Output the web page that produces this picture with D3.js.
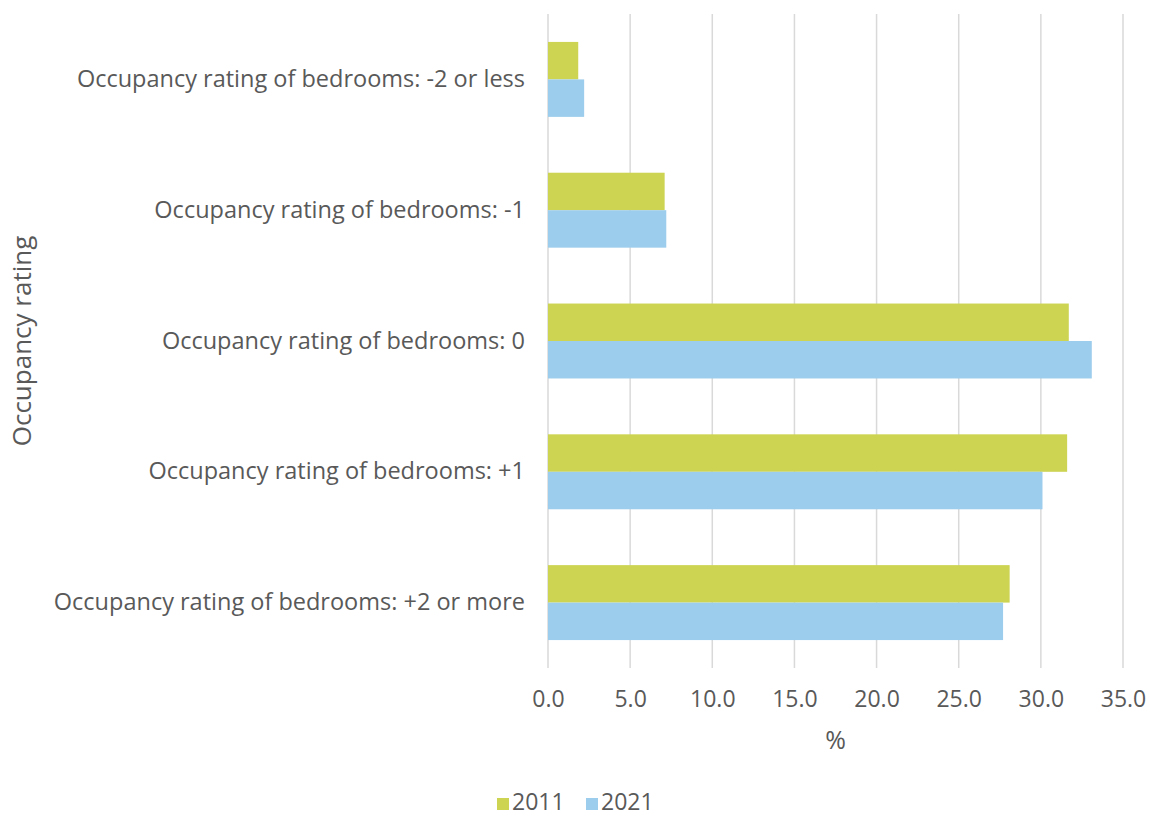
<!DOCTYPE html>
<html>
<head>
<meta charset="utf-8">
<script src="https://cdn.jsdelivr.net/npm/d3@7"></script>
<style>
  body { margin: 0; background: #fff; }
  text { font-family: "Open Sans", sans-serif; fill: #595959; }
</style>
</head>
<body>
<div class="chart_wrapper"></div>
<script>
// categories, top to bottom
const categories = [
  "Occupancy rating of bedrooms: -2 or less",
  "Occupancy rating of bedrooms: -1",
  "Occupancy rating of bedrooms: 0",
  "Occupancy rating of bedrooms: +1",
  "Occupancy rating of bedrooms: +2 or more"
]
const years = ["2011", "2021"]
const values2011 = [1.84, 7.1, 31.7, 31.6, 28.1]
const values2021 = [2.2, 7.2, 33.1, 30.1, 27.7]
const xTicks = [0, 5, 10, 15, 20, 25, 30, 35]
const colors = ["#cdd452", "#9dcdec"]

function drawChart() {

  const dataset = categories.map((c, i) => ({
    cat: c,
    vals: [values2011[i], values2021[i]]
  }))

  let dimensions = {
    width: 1150,
    height: 818,
    margin: { top: 14, right: 27, bottom: 150, left: 548 }
  }
  dimensions.boundedWidth = dimensions.width - dimensions.margin.left - dimensions.margin.right
  dimensions.boundedHeight = dimensions.height - dimensions.margin.top - dimensions.margin.bottom

  const wrapper = d3.select(".chart_wrapper")
    .append("svg")
      .attr("width", dimensions.width)
      .attr("height", dimensions.height)

  const bounds = wrapper.append("g")
    .attr("transform", `translate(${dimensions.margin.left},${dimensions.margin.top})`)

  const xScale = d3.scaleLinear()
    .domain([0, 35])
    .range([0, 575])

  const yScale = d3.scaleBand()
    .domain(categories)
    .range([0, dimensions.boundedHeight])
    .paddingInner(0.427)
    .paddingOuter(0.2135)

  const ySub = d3.scaleBand()
    .domain(years)
    .range([0, yScale.bandwidth()])

  // gridlines
  bounds.append("g")
    .selectAll("line")
    .data(xTicks)
    .join("line")
      .attr("x1", d => xScale(d))
      .attr("x2", d => xScale(d))
      .attr("y1", 0)
      .attr("y2", dimensions.boundedHeight)
      .attr("stroke", "#d9d9d9")
      .attr("stroke-width", 1.5)

  // bars
  const groups = bounds.append("g")
    .selectAll("g")
    .data(dataset)
    .join("g")
      .attr("transform", d => `translate(0,${yScale(d.cat)})`)

  groups.selectAll("rect")
    .data(d => d.vals.map((v, i) => ({ year: years[i], v: v })))
    .join("rect")
      .attr("x", xScale(0))
      .attr("y", d => ySub(d.year))
      .attr("width", d => xScale(d.v) - xScale(0))
      .attr("height", ySub.bandwidth())
      .attr("fill", (d, i) => colors[i])

  // x axis
  const xAxis = d3.axisBottom(xScale)
    .tickValues(xTicks)
    .tickFormat(d3.format(".1f"))
    .tickSize(0)
    .tickPadding(23)

  const xAxisG = bounds.append("g")
    .attr("transform", `translate(0,${dimensions.boundedHeight})`)
    .call(xAxis)
  xAxisG.select(".domain").remove()
  xAxisG.selectAll("text")
    .style("font-size", "23px")
    .attr("fill", "#595959")

  // y axis
  const yAxis = d3.axisLeft(yScale)
    .tickSize(0)
    .tickPadding(23)

  const yAxisG = bounds.append("g").call(yAxis)
  yAxisG.select(".domain").remove()
  yAxisG.selectAll("text")
    .style("font-size", "23.5px")
    .attr("fill", "#595959")

  // axis titles
  wrapper.append("text")
    .attr("x", dimensions.margin.left + xScale(17.5))
    .attr("y", 749)
    .attr("text-anchor", "middle")
    .style("font-size", "25px")
    .text("%")

  wrapper.append("text")
    .attr("transform", `translate(31,${dimensions.margin.top + dimensions.boundedHeight / 2}) rotate(-90)`)
    .attr("text-anchor", "middle")
    .style("font-size", "26px")
    .text("Occupancy rating")

  // legend
  const legend = wrapper.append("g")
    .attr("transform", "translate(497,810)")
  const legendX = [0, 89]
  years.forEach((y, i) => {
    legend.append("rect")
      .attr("x", legendX[i])
      .attr("y", -12)
      .attr("width", 12)
      .attr("height", 12)
      .attr("fill", colors[i])
    legend.append("text")
      .attr("x", legendX[i] + 15)
      .attr("y", 0)
      .style("font-size", "23px")
      .text(y)
  })
}

drawChart()
</script>
</body>
</html>
